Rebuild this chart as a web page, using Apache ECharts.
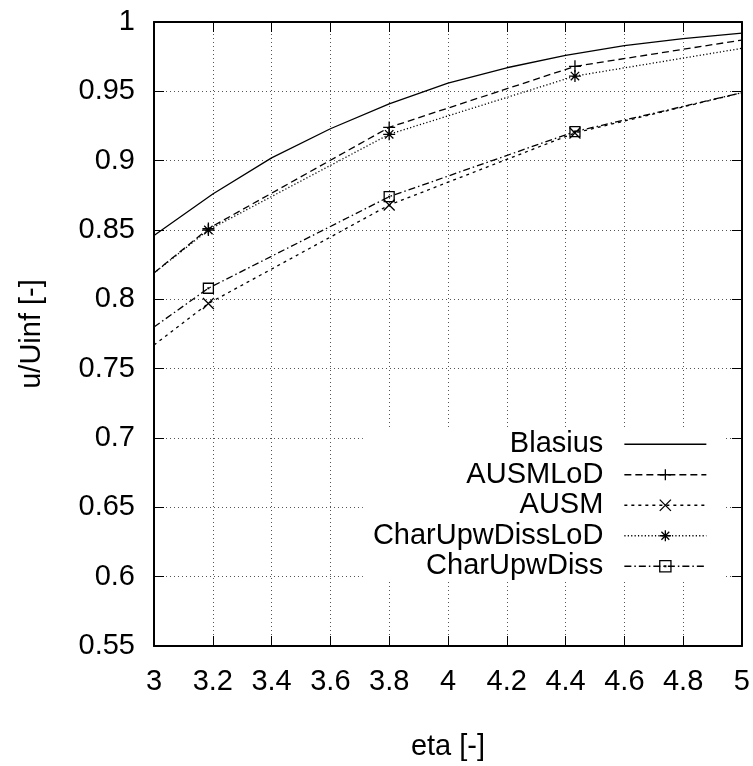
<!DOCTYPE html>
<html>
<head>
<meta charset="utf-8">
<script src="https://cdn.jsdelivr.net/npm/echarts@6/dist/echarts.min.js"></script>
<style>
  html, body { margin: 0; padding: 0; background: #fff; }
  #chart { width: 753px; height: 766px; }
</style>
</head>
<body>
<div id="chart"></div>
<script>
// Blasius reference profile, eta every 0.2
var blasiusEta = [3.0, 3.2, 3.4, 3.6, 3.8, 4.0, 4.2, 4.4, 4.6, 4.8, 5.0];
var blasiusU = [0.846, 0.876, 0.902, 0.923, 0.941, 0.956, 0.967, 0.976, 0.983, 0.988, 0.992];

// simulation profiles (first / last value = where the curve meets the frame)
var simEta = [3.0, 3.185, 3.8, 4.432, 5.0];
var ausmLoD = [0.819, 0.851, 0.924, 0.968, 0.987];
var ausm = [0.767, 0.797, 0.868, 0.920, 0.949];
var charUpwDissLoD = [0.819, 0.850, 0.919, 0.961, 0.981];
var charUpwDiss = [0.780, 0.808, 0.874, 0.921, 0.949];
var markerIdx = [1, 2, 3]; // points that carry a marker

var xTicks = { min: 3, max: 5, step: 0.2 };
var yTicks = { min: 0.55, max: 1, step: 0.05 };

var FONT = 'Liberation Sans';
var FS = 29;

// marker shapes (stroked)
var SYM_PLUS = 'path://M5 0 V10 M0 5 H10';
var SYM_CROSS = 'path://M0 0 L10 10 M10 0 L0 10';
var SYM_STAR = 'path://M5 0 V10 M0 5 H10 M1.5 1.5 L8.5 8.5 M8.5 1.5 L1.5 8.5';
var SYM_BOX = 'path://M0 0 H10 V10 H0 Z M4.6 4.6 H5.4 V5.4 H4.6 Z';

function pairs(xs, ys, withMarker) {
    var out = [];
    for (var i = 0; i < xs.length; i++) {
        var item = { value: [xs[i], ys[i]] };
        if (!withMarker || markerIdx.indexOf(i) < 0) {
            item.symbol = 'none';
        }
        out.push(item);
    }
    return out;
}

var lineW = 1.3;
var styles = [
    { name: 'Blasius', dash: 'solid', sym: 'none', size: 0 },
    { name: 'AUSMLoD', dash: [7, 4], sym: SYM_PLUS, size: 12 },
    { name: 'AUSM', dash: [3, 4], sym: SYM_CROSS, size: 11 },
    { name: 'CharUpwDissLoD', dash: [1.2, 2.2], sym: SYM_STAR, size: 12 },
    { name: 'CharUpwDiss', dash: [7, 3, 1.5, 3], sym: SYM_BOX, size: 10 }
];
var seriesData = [
    pairs(blasiusEta, blasiusU, false),
    pairs(simEta, ausmLoD, true),
    pairs(simEta, ausm, true),
    pairs(simEta, charUpwDissLoD, true),
    pairs(simEta, charUpwDiss, true)
];

var series = styles.map(function (s, i) {
    return {
        name: s.name,
        type: 'line',
        data: seriesData[i],
        symbol: s.sym,
        symbolSize: s.size,
        showSymbol: s.sym !== 'none',
        lineStyle: { color: '#000', width: lineW, type: s.dash },
        itemStyle: { color: 'transparent', borderColor: '#000', borderWidth: 1.3 },
        emphasis: { disabled: true },
        silent: true
    };
});

var legendData = styles.map(function (s) {
    var d = {
        name: s.name,
        lineStyle: { color: '#000', width: lineW, type: s.dash },
        itemStyle: { color: 'transparent', borderColor: '#000', borderWidth: 1.3 }
    };
    if (s.sym === 'none') {
        d.icon = 'line';
        d.itemStyle = { color: '#000', borderColor: '#000', borderWidth: lineW };
    }
    return d;
});

function xAxisCfg(pos, labels) {
    return {
        type: 'value',
        position: pos,
        min: xTicks.min, max: xTicks.max, interval: xTicks.step,
        name: labels ? 'eta [-]' : '',
        nameLocation: 'middle',
        nameGap: 86,
        nameTextStyle: { fontFamily: FONT, fontSize: FS, color: '#000' },
        axisLine: { show: true, onZero: false, lineStyle: { color: '#000', width: 2 } },
        axisTick: { show: true, inside: true, length: 10, lineStyle: { color: '#000', width: 1 } },
        axisLabel: { show: labels, margin: 21, fontFamily: FONT, fontSize: FS, color: '#000' },
        splitLine: { show: labels, lineStyle: { color: '#555', width: 1, type: [1, 3] } }
    };
}

function yAxisCfg(pos, labels) {
    return {
        type: 'value',
        position: pos,
        min: yTicks.min, max: yTicks.max, interval: yTicks.step,
        name: labels ? 'u/Uinf [-]' : '',
        nameLocation: 'middle',
        nameGap: 108,
        nameTextStyle: { fontFamily: FONT, fontSize: FS, color: '#000' },
        axisLine: { show: true, onZero: false, lineStyle: { color: '#000', width: 2 } },
        axisTick: { show: true, inside: true, length: 10, lineStyle: { color: '#000', width: 1 } },
        axisLabel: { show: labels, margin: 19, fontFamily: FONT, fontSize: FS, color: '#000' },
        splitLine: { show: labels, lineStyle: { color: '#555', width: 1, type: [1, 3] } }
    };
}

var chart = echarts.init(document.getElementById('chart'), null, { renderer: 'canvas' });

var option = {
    animation: false,
    backgroundColor: '#fff',
    grid: { left: 154, right: 11, top: 22, bottom: 113, containLabel: false },
    xAxis: [xAxisCfg('bottom', true), xAxisCfg('top', false)],
    yAxis: [yAxisCfg('left', true), yAxisCfg('right', false)],
    legend: {
        data: legendData,
        orient: 'vertical',
        align: 'right',
        right: 30,
        top: 429,
        padding: [0, 16, 0, 10],
        backgroundColor: '#fff',
        itemWidth: 82,
        itemHeight: 14,
        itemGap: 0,
        selectedMode: false,
        textStyle: {
            fontFamily: FONT, fontSize: FS, color: '#000',
            lineHeight: 30.5, padding: [0, 16, 0, 0]
        }
    },
    series: series
};

chart.setOption(option);
</script>
</body>
</html>
